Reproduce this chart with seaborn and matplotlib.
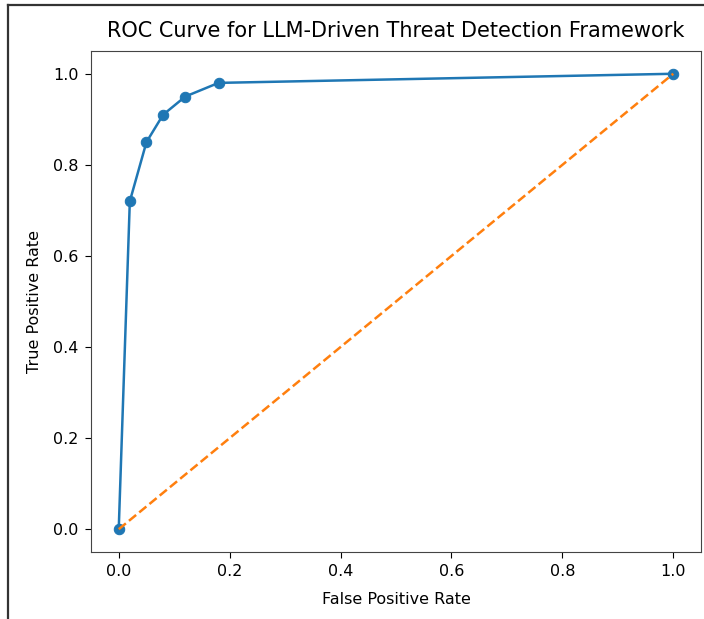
import matplotlib
matplotlib.use("Agg")
import matplotlib.pyplot as plt
import seaborn as sns
import pandas as pd
from matplotlib.lines import Line2D

# ROC points
fpr = [0.0, 0.02, 0.05, 0.08, 0.12, 0.18, 1.0]
tpr = [0.0, 0.72, 0.85, 0.91, 0.95, 0.98, 1.0]
chance = [0.0, 1.0]

roc = pd.DataFrame({"fpr": fpr, "tpr": tpr})
diag = pd.DataFrame({"x": chance, "y": chance})

fig = plt.figure(figsize=(7.04, 6.19), dpi=100)
ax = fig.add_axes([91/704, 1-552/619, 610/704, 501/619])

sns.lineplot(data=roc, x="fpr", y="tpr", ax=ax, color="#1f77b4", marker="o",
             markersize=7.5, markeredgecolor="#1f77b4", linewidth=1.8)
sns.lineplot(data=diag, x="x", y="y", ax=ax, color="#ff7f0e", linestyle="--",
             linewidth=1.8)

ax.set_xlim(-0.05, 1.05)
ax.set_ylim(-0.05, 1.05)
ax.set_xticks([0.0, 0.2, 0.4, 0.6, 0.8, 1.0])
ax.set_yticks([0.0, 0.2, 0.4, 0.6, 0.8, 1.0])
ax.tick_params(labelsize=11.5, length=4, pad=5)
for s in ax.spines.values():
    s.set_color("#444444")
ax.set_xlabel("False Positive Rate", fontsize=11.5, labelpad=9)
ax.set_ylabel("True Positive Rate", fontsize=11.5, labelpad=8)
ax.set_title("ROC Curve for LLM-Driven Threat Detection Framework", fontsize=15, pad=10)

# screenshot frame along the top and left edge
fig.add_artist(Line2D([8/704, 1.0], [1-5/619, 1-5/619], transform=fig.transFigure,
                      color="#333333", linewidth=1.6))
fig.add_artist(Line2D([8/704, 8/704], [0.0, 1-5/619], transform=fig.transFigure,
                      color="#333333", linewidth=1.6))

fig.savefig("out.png", dpi=100)
